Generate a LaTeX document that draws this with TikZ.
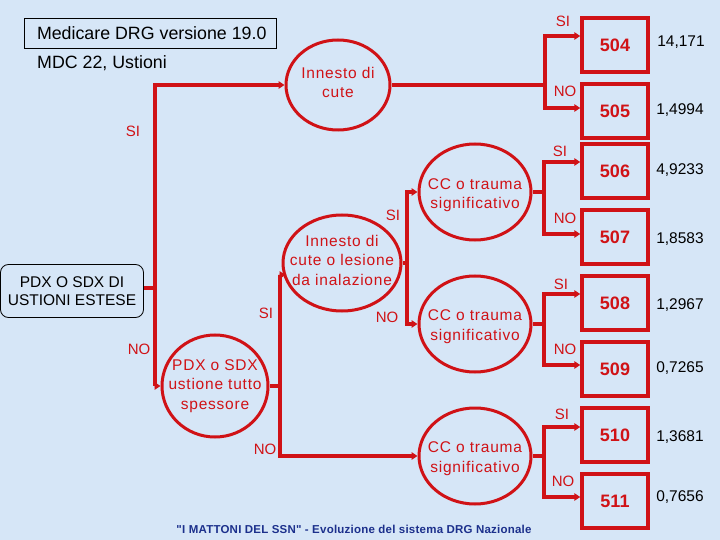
\documentclass[tikz,border=0pt]{standalone}
\usepackage{fontspec}
\setmainfont{Liberation Sans}
\usetikzlibrary{shapes.geometric,arrows.meta,calc}
\definecolor{bg}{RGB}{214,230,247}
\definecolor{mred}{RGB}{208,18,22}
\definecolor{navy}{RGB}{28,48,140}
\begin{document}
\begin{tikzpicture}[x=1pt,y=-1pt,
 rl/.style={draw=mred,line width=3.2pt},
 arr/.style={rl,-{Triangle[length=6pt,width=7.5pt]}},
 ell/.style={ellipse,draw=mred,line width=3pt,inner sep=0pt},
 etxt/.style={text=mred,align=center,inner sep=0pt,font=\fontsize{15.5}{19.5}\selectfont\addfontfeature{LetterSpace=5}},
 dbox/.style={draw=mred,line width=3.5pt,minimum width=66pt,minimum height=54pt,inner sep=0pt,text=mred,font=\fontsize{18}{20}\selectfont\bfseries},
 val/.style={font=\fontsize{15.5}{18}\selectfont},
 yn/.style={text=mred,font=\fontsize{15}{18}\selectfont},
]
\fill[bg] (0,0) rectangle (720,540);
\useasboundingbox (0,0) rectangle (720,540);

% header
\node[draw=black,line width=0.8pt,minimum width=252pt,minimum height=30pt,inner sep=0pt,font=\fontsize{17.8}{20}\selectfont] (title) at (150,33) {\makebox[226pt][l]{Medicare DRG versione 19.0}};
\node[anchor=west,inner sep=0pt,font=\fontsize{17.8}{20}\selectfont] (mdc) at (37,63) {MDC 22, Ustioni};
\node[draw=black,line width=0.8pt,rounded corners=8pt,minimum width=143pt,minimum height=53pt,align=center,font=\fontsize{15.5}{18.5}\selectfont] (pdxbox) at (72,291) {PDX O SDX DI\\USTIONI ESTESE};

% decision ellipses
\node[ell,minimum width=104pt,minimum height=90pt] (inn1) at (338,85) {};
\node[etxt] (inn1t) at (338,82.5) {Innesto di\\cute};
\node[ell,minimum width=118pt,minimum height=96pt] (inn2) at (342,263) {};
\node[etxt] (inn2t) at (342,260) {Innesto di\\cute o lesione\\da inalazione};
\node[ell,minimum width=106pt,minimum height=102pt] (pdxc) at (215,386) {};
\node[etxt] (pdxct) at (215,386) {PDX o SDX\\ustione tutto\\spessore};
\node[ell,minimum width=112pt,minimum height=96pt] (cc1) at (475,192) {};
\node[etxt] (cc1t) at (475,195) {CC o trauma\\significativo};
\node[ell,minimum width=112pt,minimum height=96pt] (cc2) at (475,324) {};
\node[etxt] (cc2t) at (475,326.5) {CC o trauma\\significativo};
\node[ell,minimum width=112pt,minimum height=96pt] (cc3) at (475,456) {};
\node[etxt] (cc3t) at (475,458.5) {CC o trauma\\significativo};

% DRG boxes
\node[dbox] (b504) at (615,45) {504};
\node[dbox] (b505) at (615,111) {505};
\node[dbox] (b506) at (615,171) {506};
\node[dbox] (b507) at (615,237) {507};
\node[dbox] (b508) at (615,303) {508};
\node[dbox] (b509) at (615,369) {509};
\node[dbox] (b510) at (615,435) {510};
\node[dbox] (b511) at (615,501) {511};

% weights
\node[val] (v504) at (681,42) {14,171};
\node[val] (v505) at (680,110) {1,4994};
\node[val] (v506) at (680,170) {4,9233};
\node[val] (v507) at (680,239) {1,8583};
\node[val] (v508) at (680,305) {1,2967};
\node[val] (v509) at (680,368) {0,7265};
\node[val] (v510) at (680,437) {1,3681};
\node[val] (v511) at (680,497) {0,7656};

% connectors
\coordinate (j0) at (155,288);
\draw[rl] (pdxbox.east|-j0) -- (j0);
\draw[arr] (j0) |- (inn1.west);
\draw[arr] (j0) |- (pdxc.west);
\coordinate (j1) at (545,85);
\draw[rl] (inn1.east) -- (j1);
\draw[arr] (j1) |- ([yshift=9pt]b504.west);
\draw[arr] (j1) |- ([yshift=3pt]b505.west);
\coordinate (j2) at (280,386);
\draw[rl] (pdxc.east) -- (j2);
\draw[arr] (j2) |- ([xshift=4pt,yshift=-12pt]inn2.west);
\draw[arr] (j2) |- (cc3.west);
\coordinate (j3) at (407,263);
\draw[rl] (inn2.east) -- (j3);
\draw[arr] (j3) |- (cc1.west);
\draw[arr] (j3) |- (cc2.west);
\coordinate (k1) at (544,192);
\draw[rl] (cc1.east) -- (k1);
\draw[arr] (k1) |- ([yshift=9pt]b506.west);
\draw[arr] (k1) |- ([yshift=3pt]b507.west);
\coordinate (k2) at (544,324);
\draw[rl] (cc2.east) -- (k2);
\draw[arr] (k2) |- ([yshift=9pt]b508.west);
\draw[arr] (k2) |- ([yshift=4pt]b509.west);
\coordinate (k3) at (544,456);
\draw[rl] (cc3.east) -- (k3);
\draw[arr] (k3) |- ([yshift=8pt]b510.west);
\draw[arr] (k3) |- ([yshift=4pt]b511.west);

% branch labels
\node[yn] (l1) at (133,131) {SI};
\node[yn] (l2) at (139,349) {NO};
\node[yn] (l3) at (563,21) {SI};
\node[yn] (l4) at (565,91) {NO};
\node[yn] (l5) at (560,151) {SI};
\node[yn] (l6) at (565,218) {NO};
\node[yn] (l7) at (393,215) {SI};
\node[yn] (l8) at (387,317) {NO};
\node[yn] (l9) at (266,313) {SI};
\node[yn] (l10) at (265,449) {NO};
\node[yn] (l11) at (561,284) {SI};
\node[yn] (l12) at (565,349) {NO};
\node[yn] (l13) at (562,414) {SI};
\node[yn] (l14) at (563,481) {NO};

% footer
\node[text=navy,font=\fontsize{11.5}{13}\selectfont\bfseries\addfontfeature{LetterSpace=2,Ligatures=TeXOff}] (foot) at (354,529) {"I MATTONI DEL SSN" - Evoluzione del sistema DRG Nazionale};
\end{tikzpicture}
\end{document}
